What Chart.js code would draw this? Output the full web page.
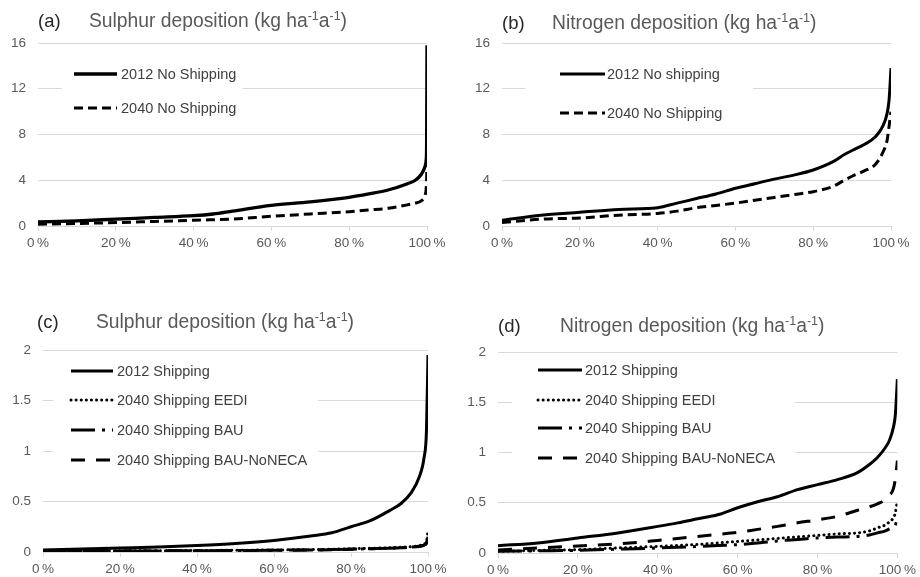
<!DOCTYPE html>
<html>
<head>
<meta charset="utf-8">
<script src="https://cdn.jsdelivr.net/npm/chart.js@4"></script>
<style>
  body { margin: 0; background: #fff; }
  #wrap { position: relative; width: 920px; height: 577px; }
  .panel { position: absolute; }
</style>
</head>
<body>
<div id="wrap">
  <div class="panel" style="left:0;top:0;width:460px;height:290px"><canvas id="chartA"></canvas></div>
  <div class="panel" style="left:460px;top:0;width:460px;height:290px"><canvas id="chartB"></canvas></div>
  <div class="panel" style="left:0;top:290px;width:460px;height:287px"><canvas id="chartC"></canvas></div>
  <div class="panel" style="left:460px;top:290px;width:460px;height:287px"><canvas id="chartD"></canvas></div>
</div>
<script>
// percentile of grid cells (x axis) and deposition values (y axis)

// (a) sulphur, no shipping
var pctA = [0, 10, 20, 30, 40, 45, 50, 60, 70, 80, 85, 90, 95, 97, 98.5, 99.5, 99.8, 99.9, 100];
var sulph2012NoShip = [0.35, 0.45, 0.6, 0.75, 0.9, 1.05, 1.3, 1.8, 2.1, 2.5, 2.8, 3.15, 3.7, 4.0, 4.5, 5.2, 5.8, 7.0, 15.8];
var sulph2040NoShip = [0.15, 0.22, 0.3, 0.4, 0.5, 0.55, 0.6, 0.85, 1.05, 1.25, 1.4, 1.55, 1.85, 2.0, 2.2, 2.7, 3.3, 4.0, 5.5];

// (b) nitrogen, no shipping
var pctB = [0, 10, 20, 30, 40, 45, 50, 55, 60, 65, 70, 75, 80, 85, 88, 90, 93, 96, 98, 99, 99.5, 100];
var nit2012NoShip = [0.5, 0.95, 1.2, 1.45, 1.6, 2.0, 2.4, 2.8, 3.3, 3.7, 4.1, 4.45, 4.9, 5.6, 6.25, 6.6, 7.1, 7.8, 8.8, 9.85, 11, 13.8];
var nit2040NoShip = [0.3, 0.6, 0.7, 0.95, 1.1, 1.3, 1.6, 1.8, 2.0, 2.25, 2.5, 2.75, 3.0, 3.45, 4.0, 4.35, 4.8, 5.4, 6.5, 7.5, 8.7, 10.0];

// (c) sulphur, shipping contribution
var pctC = [0, 10, 20, 30, 40, 50, 60, 70, 75, 80, 85, 90, 93, 95.5, 97.7, 99, 99.6, 100];
var sulph2012Ship = [0.02, 0.03, 0.04, 0.05, 0.065, 0.085, 0.115, 0.16, 0.19, 0.25, 0.31, 0.41, 0.48, 0.58, 0.74, 0.94, 1.2, 1.95];
var sulph2040EEDI = [0.01, 0.011, 0.012, 0.013, 0.015, 0.017, 0.02, 0.024, 0.027, 0.032, 0.037, 0.042, 0.047, 0.052, 0.062, 0.08, 0.1, 0.21];
var sulph2040BAU = [0.008, 0.009, 0.01, 0.011, 0.013, 0.015, 0.018, 0.021, 0.024, 0.028, 0.033, 0.038, 0.043, 0.048, 0.056, 0.07, 0.09, 0.15];
var sulph2040NoNECA = [0.008, 0.009, 0.01, 0.011, 0.013, 0.015, 0.017, 0.02, 0.023, 0.027, 0.032, 0.037, 0.042, 0.047, 0.055, 0.068, 0.085, 0.12];

// (d) nitrogen, shipping contribution
var pctD = [0, 10, 20, 30, 40, 45, 50, 55, 60, 65, 70, 75, 80, 85, 90, 93, 95, 97, 98, 99, 99.5, 100];
var nit2012Ship = [0.073, 0.1, 0.15, 0.2, 0.265, 0.3, 0.34, 0.38, 0.45, 0.51, 0.56, 0.63, 0.68, 0.73, 0.8, 0.88, 0.95, 1.05, 1.12, 1.25, 1.38, 1.73];
var nit2040EEDI = [0.017, 0.025, 0.033, 0.05, 0.066, 0.075, 0.085, 0.1, 0.115, 0.13, 0.145, 0.16, 0.175, 0.19, 0.2, 0.22, 0.25, 0.28, 0.31, 0.35, 0.4, 0.52];
var nit2040BAU = [0.017, 0.022, 0.027, 0.038, 0.05, 0.058, 0.065, 0.075, 0.083, 0.1, 0.12, 0.135, 0.15, 0.158, 0.165, 0.18, 0.2, 0.22, 0.24, 0.26, 0.28, 0.34];
var nit2040NoNECA = [0.03, 0.05, 0.07, 0.09, 0.125, 0.145, 0.165, 0.185, 0.205, 0.235, 0.265, 0.3, 0.33, 0.365, 0.425, 0.46, 0.49, 0.53, 0.57, 0.64, 0.74, 0.92];

var pctTicks = [0, 20, 40, 60, 80, 100];

var fontFam = '"Liberation Sans", Arial, sans-serif';
var gridCol = '#d9d9d9';
var tickCol = '#595959';

// line styles
var SOLID = { dash: [], width: 3, cap: 'butt' };
var DASHED = { dash: [9, 5], width: 3, cap: 'butt' };
var DOTTED = { dash: [0.1, 5], width: 3, cap: 'round' };
var DASHDOT = { dash: [24, 7, 3, 7], width: 3, cap: 'butt' };
var LONGDASH = { dash: [14, 11], width: 3, cap: 'butt' };

// title with "(a)" tag and superscripted units
var panelTitle = {
  id: 'panelTitle',
  afterDraw: function(chart, args, o) {
    var ctx = chart.ctx;
    ctx.save();
    ctx.textBaseline = 'middle';
    ctx.textAlign = 'left';
    ctx.fillStyle = '#262626';
    ctx.font = '18.5px ' + fontFam;
    ctx.fillText(o.tag, o.tagX, o.y);
    ctx.fillStyle = tickCol;
    var x = o.x;
    var parts = [[o.text + ' (kg ha', false], ['-1', true], ['a', false], ['-1', true], [')', false]];
    for (var i = 0; i < parts.length; i++) {
      if (parts[i][1]) {
        ctx.font = '12.5px ' + fontFam;
        ctx.fillText(parts[i][0], x, o.y - 5);
      } else {
        ctx.font = '19.3px ' + fontFam;
        ctx.fillText(parts[i][0], x, o.y);
      }
      x += ctx.measureText(parts[i][0]).width;
    }
    ctx.restore();
  }
};

// legend drawn inside the plot, on a white box over the gridlines
var insideLegend = {
  id: 'insideLegend',
  afterDraw: function(chart, args, o) {
    var ctx = chart.ctx;
    ctx.save();
    ctx.fillStyle = '#fff';
    ctx.fillRect(o.box[0], o.box[1], o.box[2], o.box[3]);
    chart.data.datasets.forEach(function(ds, i) {
      var y = o.rows[i];
      ctx.strokeStyle = '#000';
      ctx.lineWidth = ds.borderWidth;
      ctx.lineCap = ds.borderCapStyle;
      ctx.setLineDash(ds.borderDash);
      ctx.beginPath();
      ctx.moveTo(o.x0, y);
      ctx.lineTo(o.x1, y);
      ctx.stroke();
      ctx.setLineDash([]);
      ctx.fillStyle = '#404040';
      ctx.font = '14.5px ' + fontFam;
      ctx.textBaseline = 'middle';
      ctx.fillText(ds.label, o.textX, y + 1);
    });
    ctx.restore();
  }
};

function makeSet(label, pct, vals, st) {
  return {
    label: label,
    data: pct.map(function(p, i) { return { x: p, y: vals[i] }; }),
    borderColor: '#000',
    borderWidth: st.width,
    borderDash: st.dash,
    borderCapStyle: st.cap,
    pointRadius: 0,
    fill: false,
    cubicInterpolationMode: 'monotone'
  };
}

function makeChart(id, sets, cfg) {
  var ctx = document.getElementById(id).getContext('2d');
  return new Chart(ctx, {
    type: 'line',
    data: { datasets: sets },
    options: {
      responsive: true,
      maintainAspectRatio: false,
      animation: false,
      layout: { padding: { top: cfg.top, right: cfg.right, bottom: cfg.bottom, left: 0 } },
      scales: {
        x: {
          type: 'linear', min: 0, max: 100,
          afterBuildTicks: function(s) { s.ticks = pctTicks.map(function(v) { return { value: v }; }); },
          afterFit: function(s) { s.height = 30; },
          ticks: { color: tickCol, font: { family: fontFam, size: 13.5 }, padding: 4, maxRotation: 0,
                   callback: function(v) { return v + '\u2009%'; } },
          grid: { drawOnChartArea: false, drawTicks: true, tickLength: 5, color: gridCol },
          border: { display: true, color: gridCol }
        },
        y: {
          min: 0, max: cfg.yMax,
          afterFit: function(s) { s.width = cfg.left; },
          ticks: { stepSize: cfg.yStep, color: tickCol, font: { family: fontFam, size: 13.5 }, padding: 12,
                   callback: function(v) { return String(v); } },
          grid: { color: gridCol, drawTicks: false },
          border: { display: false }
        }
      },
      plugins: {
        legend: { display: false },
        tooltip: { enabled: false },
        panelTitle: cfg.title,
        insideLegend: cfg.legend
      }
    },
    plugins: [panelTitle, insideLegend]
  });
}

makeChart('chartA', [
  makeSet('2012 No Shipping', pctA, sulph2012NoShip, { dash: [], width: 3.3, cap: 'butt' }),
  makeSet('2040 No Shipping', pctA, sulph2040NoShip, DASHED)
], {
  top: 43, right: 33, bottom: 34, left: 38, yMax: 16, yStep: 4,
  title: { tag: '(a)', tagX: 38, x: 89, y: 22, text: 'Sulphur deposition' },
  legend: { box: [62, 56, 181, 66], rows: [74, 108], x0: 74, x1: 117, textX: 121 }
});

makeChart('chartB', [
  makeSet('2012 No shipping', pctB, nit2012NoShip, SOLID),
  makeSet('2040 No Shipping', pctB, nit2040NoShip, DASHED)
], {
  top: 43, right: 29, bottom: 34, left: 42, yMax: 16, yStep: 4,
  title: { tag: '(b)', tagX: 42, x: 92, y: 24, text: 'Nitrogen deposition' },
  legend: { box: [65, 56, 228, 70], rows: [74, 113], x0: 100, x1: 145, textX: 147 }
});

makeChart('chartC', [
  makeSet('2012 Shipping', pctC, sulph2012Ship, SOLID),
  makeSet('2040 Shipping EEDI', pctC, sulph2040EEDI, DOTTED),
  makeSet('2040 Shipping BAU', pctC, sulph2040BAU, DASHDOT),
  makeSet('2040 Shipping BAU-NoNECA', pctC, sulph2040NoNECA, LONGDASH)
], {
  top: 60, right: 32, bottom: 287 - 262 - 30, left: 43, yMax: 2, yStep: 0.5,
  title: { tag: '(c)', tagX: 37, x: 96, y: 33, text: 'Sulphur deposition' },
  legend: { box: [53, 66, 265, 118], rows: [81, 110, 140, 170], x0: 71, x1: 113, textX: 117 }
});

makeChart('chartD', [
  makeSet('2012 Shipping', pctD, nit2012Ship, SOLID),
  makeSet('2040 Shipping EEDI', pctD, nit2040EEDI, DOTTED),
  makeSet('2040 Shipping BAU', pctD, nit2040BAU, DASHDOT),
  makeSet('2040 Shipping BAU-NoNECA', pctD, nit2040NoNECA, LONGDASH)
], {
  top: 62, right: 21, bottom: 287 - 263 - 30, left: 38, yMax: 2, yStep: 0.5,
  title: { tag: '(d)', tagX: 38, x: 100, y: 37, text: 'Nitrogen deposition' },
  legend: { box: [52, 66, 283, 118], rows: [80, 110, 138, 168], x0: 78, x1: 122, textX: 125 }
});
</script>
</body>
</html>
